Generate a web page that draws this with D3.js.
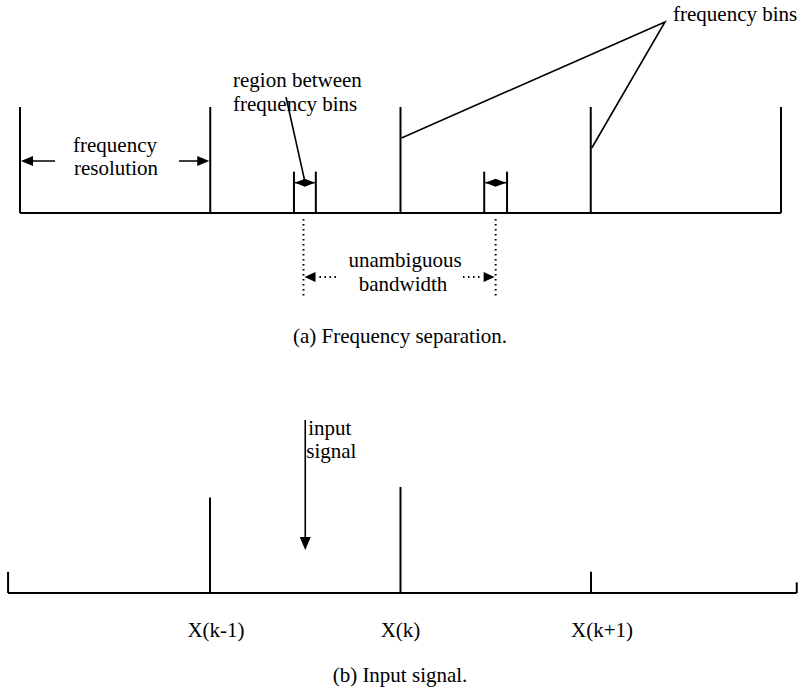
<!DOCTYPE html>
<html><head><meta charset="utf-8">
<script src="https://cdn.jsdelivr.net/npm/d3@7"></script>
<style>
html,body{margin:0;padding:0;background:#fff;}
svg text{font-family:"Liberation Serif","Times New Roman",serif;fill:#000;}
</style></head>
<body>
<script>
// ---- data (bin index units) ----
// Panel (a): frequency separation
const binPositionsA = [0, 1, 2, 3, 4];          // frequency bins
const binHeightA = 1.0;
const gapRegions = [[1.44, 1.555], [2.44, 2.56]]; // region between bins
const gapHeight = 0.39;
const unambiguous = [1.49, 2.50];
// Panel (b): input signal
const binLabelsB = ["X(k-1)", "X(k)", "X(k+1)"];
const binPositionsB = [-2.06, -1, 0, 1, 2.08];
const binHeightsB = [0.2, 0.9, 1.0, 0.2, 0.1];
const inputSignalPos = -0.5;

const W = 802, H = 689;
const svg = d3.select("body").append("svg").attr("width", W).attr("height", H);
const FS = 21, SX = 1.0;

function label(x, y, str, anchor) {
  const g = svg.append("g").attr("transform", `translate(${x},${y}) scale(${SX},1)`);
  g.append("text").attr("font-size", FS).attr("text-anchor", anchor || "middle").text(str);
}
function arrowHead(tipX, tipY, dir, len, half) {
  let p;
  if (dir === "left") p = [[tipX, tipY], [tipX + len, tipY - half], [tipX + len, tipY + half]];
  else if (dir === "right") p = [[tipX, tipY], [tipX - len, tipY - half], [tipX - len, tipY + half]];
  else p = [[tipX, tipY], [tipX - half, tipY - len], [tipX + half, tipY - len]];
  svg.append("path").attr("d", d3.line()(p) + "Z").attr("fill", "#000");
}

// ---- Panel (a) ----
const xA = d3.scaleLinear().domain([0, 4]).range([20, 781]);
const yA = d3.scaleLinear().domain([0, 1]).range([213, 107]);

svg.append("line").attr("x1", xA(0)).attr("x2", xA(4)).attr("y1", yA(0)).attr("y2", yA(0))
  .attr("stroke", "#000").attr("stroke-width", 2);
svg.selectAll(".binA").data(binPositionsA).enter().append("line")
  .attr("x1", d => xA(d)).attr("x2", d => xA(d)).attr("y1", yA(0)).attr("y2", yA(binHeightA))
  .attr("stroke", "#000").attr("stroke-width", 2);

gapRegions.forEach(([a, b]) => {
  [a, b].forEach(v => svg.append("line").attr("x1", xA(v)).attr("x2", xA(v))
    .attr("y1", yA(0)).attr("y2", yA(gapHeight)).attr("stroke", "#000").attr("stroke-width", 2));
  const ay = yA(gapHeight) + 11;
  const x1 = xA(a) + 1, x2 = xA(b) - 1, m = (x1 + x2) / 2;
  svg.append("path").attr("d", d3.line()([[x1, ay], [m, ay - 4], [x2, ay], [m, ay + 4]]) + "Z")
    .attr("fill", "#000");
  svg.append("line").attr("x1", x1).attr("x2", x2).attr("y1", ay).attr("y2", ay)
    .attr("stroke", "#000").attr("stroke-width", 1.5);
});

// frequency resolution arrows
const frY = 161;
svg.append("line").attr("x1", 55).attr("x2", xA(0) + 8).attr("y1", frY).attr("y2", frY).attr("stroke", "#000").attr("stroke-width", 1.5);
arrowHead(xA(0) + 1, frY, "left", 12, 5);
svg.append("line").attr("x1", 179).attr("x2", xA(1) - 8).attr("y1", frY).attr("y2", frY).attr("stroke", "#000").attr("stroke-width", 1.5);
arrowHead(xA(1) - 1, frY, "right", 12, 5);
label(115, 152, "frequency");
label(116, 175, "resolution");

// region between frequency bins
label(233, 87, "region between", "start");
label(233, 111, "frequency bins", "start");
svg.append("line").attr("x1", 286).attr("y1", 97).attr("x2", (xA(gapRegions[0][0]) + xA(gapRegions[0][1])) / 2)
  .attr("y2", yA(gapHeight) + 10).attr("stroke", "#000").attr("stroke-width", 1.6);

// frequency bins pointer
label(673, 21, "frequency bins", "start");
svg.append("path").attr("d", d3.line()([[xA(2) + 1, 138], [665, 22], [xA(3) + 1, 148]]))
  .attr("fill", "none").attr("stroke", "#000").attr("stroke-width", 1.6);

// unambiguous bandwidth
unambiguous.forEach(v => svg.append("line").attr("x1", xA(v)).attr("x2", xA(v))
  .attr("y1", 219).attr("y2", 298).attr("stroke", "#000").attr("stroke-width", 2)
  .attr("stroke-dasharray", "1.5,3.5"));
const ubY = 277;
arrowHead(xA(unambiguous[0]) + 1, ubY, "left", 11, 5);
svg.append("line").attr("x1", xA(unambiguous[0]) + 16).attr("x2", 337).attr("y1", ubY).attr("y2", ubY)
  .attr("stroke", "#000").attr("stroke-width", 2).attr("stroke-dasharray", "1.5,3.5");
arrowHead(xA(unambiguous[1]) - 1, ubY, "right", 11, 5);
svg.append("line").attr("x1", 463).attr("x2", xA(unambiguous[1]) - 13).attr("y1", ubY).attr("y2", ubY)
  .attr("stroke", "#000").attr("stroke-width", 2).attr("stroke-dasharray", "1.5,3.5");
label(405, 267, "unambiguous");
label(403, 291, "bandwidth");

label(400, 343, "(a) Frequency separation.");

// ---- Panel (b) ----
const xB = d3.scaleLinear().domain([-1, 1]).range([210, 591]);
const yB = d3.scaleLinear().domain([0, 1]).range([593, 487]);
svg.append("line").attr("x1", xB(binPositionsB[0])).attr("x2", xB(binPositionsB[4]))
  .attr("y1", yB(0)).attr("y2", yB(0)).attr("stroke", "#000").attr("stroke-width", 2);
svg.selectAll(".binB").data(binPositionsB).enter().append("line")
  .attr("x1", d => xB(d)).attr("x2", d => xB(d)).attr("y1", yB(0))
  .attr("y2", (d, i) => yB(binHeightsB[i])).attr("stroke", "#000").attr("stroke-width", 2);

const labelOffsets = [6, 0, 11];
binLabelsB.forEach((t, i) => label(xB(i - 1) + labelOffsets[i], 637, t));

// input signal arrow
const isx = xB(inputSignalPos);
svg.append("line").attr("x1", isx).attr("x2", isx).attr("y1", 420).attr("y2", 540)
  .attr("stroke", "#000").attr("stroke-width", 1.6);
arrowHead(isx, 550, "down", 13, 5.5);
label(isx + 3, 435, "input", "start");
label(isx + 1, 458, "signal", "start");

label(400, 682, "(b) Input signal.");
</script>
</body></html>
